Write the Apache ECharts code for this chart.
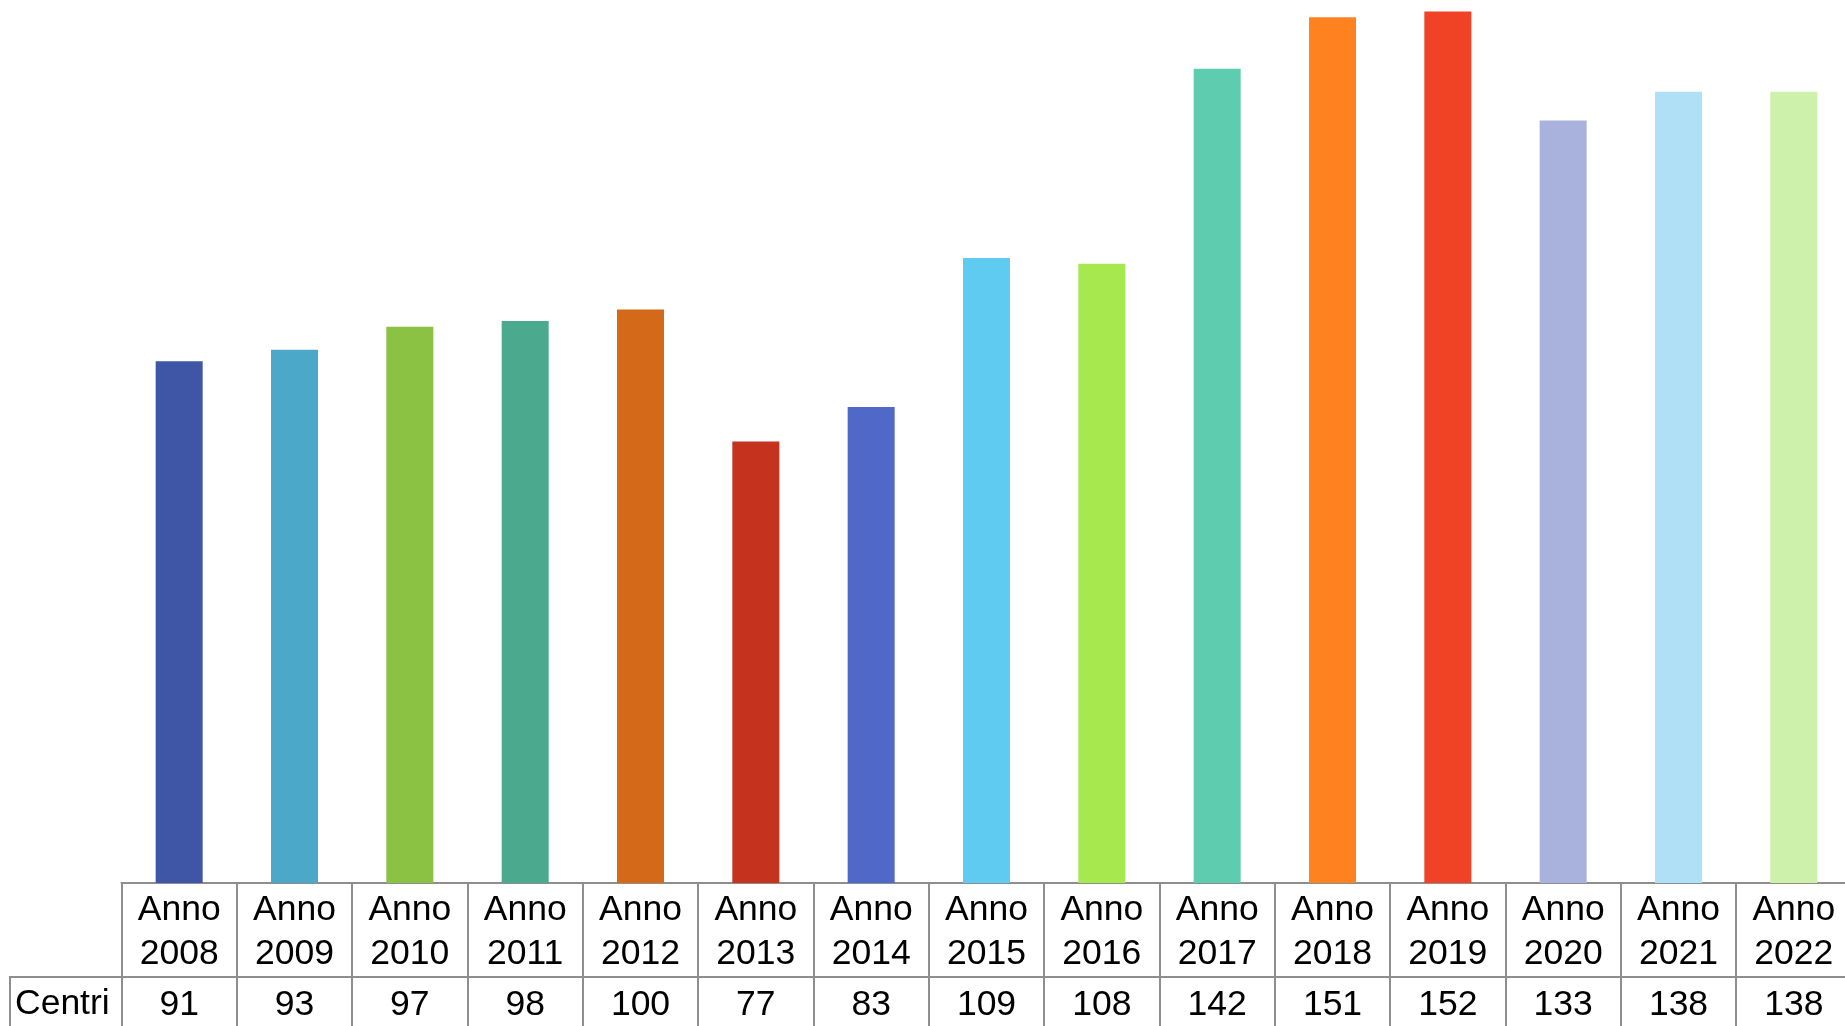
<!DOCTYPE html>
<html>
<head>
<meta charset="utf-8">
<script src="https://cdn.jsdelivr.net/npm/echarts@6/dist/echarts.min.js"></script>
<style>
html,body{margin:0;padding:0;background:#fff;}
#chart{width:1845px;height:1026px;}
</style>
</head>
<body>
<div id="chart"></div>
<script>
const years = ['2008','2009','2010','2011','2012','2013','2014','2015','2016','2017','2018','2019','2020','2021','2022'];
const categories = years.map(y => 'Anno\n' + y);
const centri = [91, 93, 97, 98, 100, 77, 83, 109, 108, 142, 151, 152, 133, 138, 138];
const seriesName = 'Centri';
const barColors = ['#3F55A5','#4BA8C9','#8BC243','#4BAA8E','#D46919','#C5321E','#5069C8','#60CBF1','#A8E84F','#5DCCAF','#FF8220','#F04225','#A9B1DD','#B0E0F6','#CDF1AA'];

const lineColor = '#8e8e8e';
const font = "'Liberation Sans', Arial, sans-serif";
const fs = 35.5;

const chart = echarts.init(document.getElementById('chart'));
chart.setOption({
  animation: false,
  backgroundColor: '#ffffff',
  grid: { left: 121.5, width: 1730, top: 0, bottom: 143, containLabel: false, outerBoundsMode: 'none' },
  xAxis: [
    {
      type: 'category',
      data: categories,
      boundaryGap: true,
      axisLine: { show: true, lineStyle: { color: lineColor, width: 2 } },
      axisTick: { show: true, interval: 0, alignWithLabel: false, length: 150, lineStyle: { color: lineColor, width: 2 } },
      axisLabel: { interval: 0, margin: 5, fontSize: fs, lineHeight: 44, color: '#000', fontFamily: font, hideOverlap: false }
    },
    {
      type: 'category',
      data: centri.map(String),
      position: 'bottom',
      offset: 94,
      boundaryGap: true,
      axisLine: { show: true, lineStyle: { color: lineColor, width: 2 } },
      axisTick: { show: false },
      axisLabel: { interval: 0, margin: 10, fontSize: fs, lineHeight: 36, color: '#000', fontFamily: font, hideOverlap: false }
    }
  ],
  yAxis: { type: 'value', min: 0, max: 154, show: false, splitLine: { show: false } },
  series: [{
    name: seriesName,
    type: 'bar',
    xAxisIndex: 0,
    barWidth: 47,
    data: centri.map((v, i) => ({ value: v, itemStyle: { color: barColors[i] } }))
  }],
  graphic: [
    { type: 'line', shape: { x1: 10, y1: 977, x2: 122, y2: 977 }, style: { stroke: lineColor, lineWidth: 2 } },
    { type: 'line', shape: { x1: 10, y1: 976, x2: 10, y2: 1030 }, style: { stroke: lineColor, lineWidth: 2 } },
    { type: 'text', left: 15, top: 986, style: { text: seriesName, fontSize: fs, fontFamily: font, fill: '#000' } }
  ]
});
</script>
</body>
</html>
